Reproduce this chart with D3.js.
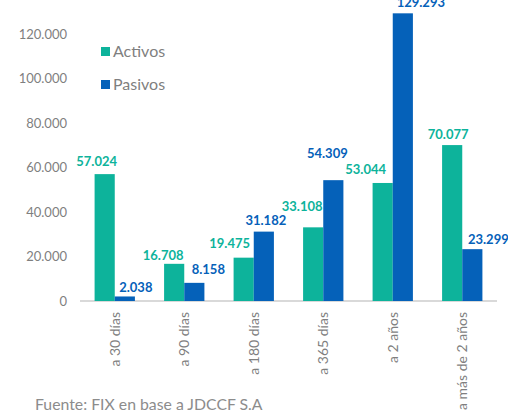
<!DOCTYPE html>
<html><head><meta charset="utf-8">
<script src="https://cdn.jsdelivr.net/npm/d3@7"></script>
<style>body{margin:0;background:#fff;} svg{display:block;font-family:Lato, "Open Sans", sans-serif;}</style>
</head><body>
<svg id="c" width="508" height="418"></svg>
<script>
const categories = ["a 30 días","a 90 días","a 180 días","a 365 días","a 2 años","a más de 2 años"];
const seriesNames = ["Activos","Pasivos"];
const activos = [57024,16708,19475,33108,53044,70077];
const pasivos = [2038,8158,31182,54309,129293,23299];
const yTicks = [0,20000,40000,60000,80000,100000,120000];
const source = "Fuente: FIX en base a JDCCF S.A";
const colors = {Activos:"#0db39b", Pasivos:"#0561b9"};
// label placement nudges (layout only, px): horizontal shift and lift above bar top
const labelShift = {Activos:[-8,-11,-14,-11,-17,-4], Pasivos:[11,14,2,-6,18,16]};
const labelLift  = {Activos:[13,9,14,21,14,11], Pasivos:[9,14,11,27,11,10]};

const svg = d3.select("#c");
const fmt = v => d3.format(",")(v).replace(/,/g,".");
const y = d3.scaleLinear().domain([0,120000]).range([301,34]);
const x = d3.scaleBand().domain(categories).range([80,497]).paddingInner(0.42).paddingOuter(0.21);
const xs = d3.scaleBand().domain(seriesNames).range([0,x.bandwidth()]);

// y axis labels
const yAxis = d3.axisLeft(y).tickValues(yTicks).tickFormat(fmt).tickSize(0).tickPadding(0);
const ya = svg.append("g").attr("transform","translate(67,0)").call(yAxis);
ya.select(".domain").remove();
ya.selectAll("text").attr("fill","#7f7f7f").style("font-size","13px").style("font-family","Lato");

// baseline
const xAxis = d3.axisBottom(x).tickSize(0).tickPadding(0).tickFormat("");
const xa = svg.append("g").attr("transform","translate(0,301)").call(xAxis);
xa.select(".domain").attr("stroke","#d9d9d9").attr("stroke-width",2).attr("d","M80,0H497");

// category labels
svg.append("g").selectAll("text").data(categories).join("text")
  .attr("transform",d=>`translate(${x(d)+x.bandwidth()/2+5},312) rotate(-90)`)
  .attr("text-anchor","end")
  .attr("fill","#7f7f7f").style("font-size","14px")
  .text(d=>d);

const data = categories.map((c,i)=>({c, vals:[{s:"Activos",v:activos[i],i},{s:"Pasivos",v:pasivos[i],i}]}));
const g = svg.append("g").selectAll("g").data(data).join("g")
  .attr("transform",d=>`translate(${x(d.c)},0)`);
g.selectAll("rect").data(d=>d.vals).join("rect")
  .attr("x",d=>xs(d.s)).attr("width",xs.bandwidth())
  .attr("y",d=>y(d.v)).attr("height",d=>y(0)-y(d.v))
  .attr("fill",d=>colors[d.s]);
g.selectAll("text").data(d=>d.vals).join("text")
  .attr("x",d=>xs(d.s)+xs.bandwidth()/2+labelShift[d.s][d.i])
  .attr("y",d=>y(d.v)-labelLift[d.s][d.i]+4.7)
  .attr("text-anchor","middle")
  .attr("fill",d=>colors[d.s]).style("font-size","13px").style("font-weight","bold")
  .text(d=>fmt(d.v));

// legend
const lg = svg.append("g").selectAll("g").data(seriesNames).join("g")
  .attr("transform",(d,i)=>`translate(101,${47+i*33})`);
lg.append("rect").attr("width",9).attr("height",9).attr("fill",d=>colors[d]);
lg.append("text").attr("x",12).attr("y",4.5).attr("dy","0.36em")
  .attr("fill","#7f7f7f").style("font-size","16px").text(d=>d);

svg.append("text").attr("x",35).attr("y",410).attr("fill","#8c8c8c")
  .style("font-size","15.8px").text(source);
</script>
</body></html>
